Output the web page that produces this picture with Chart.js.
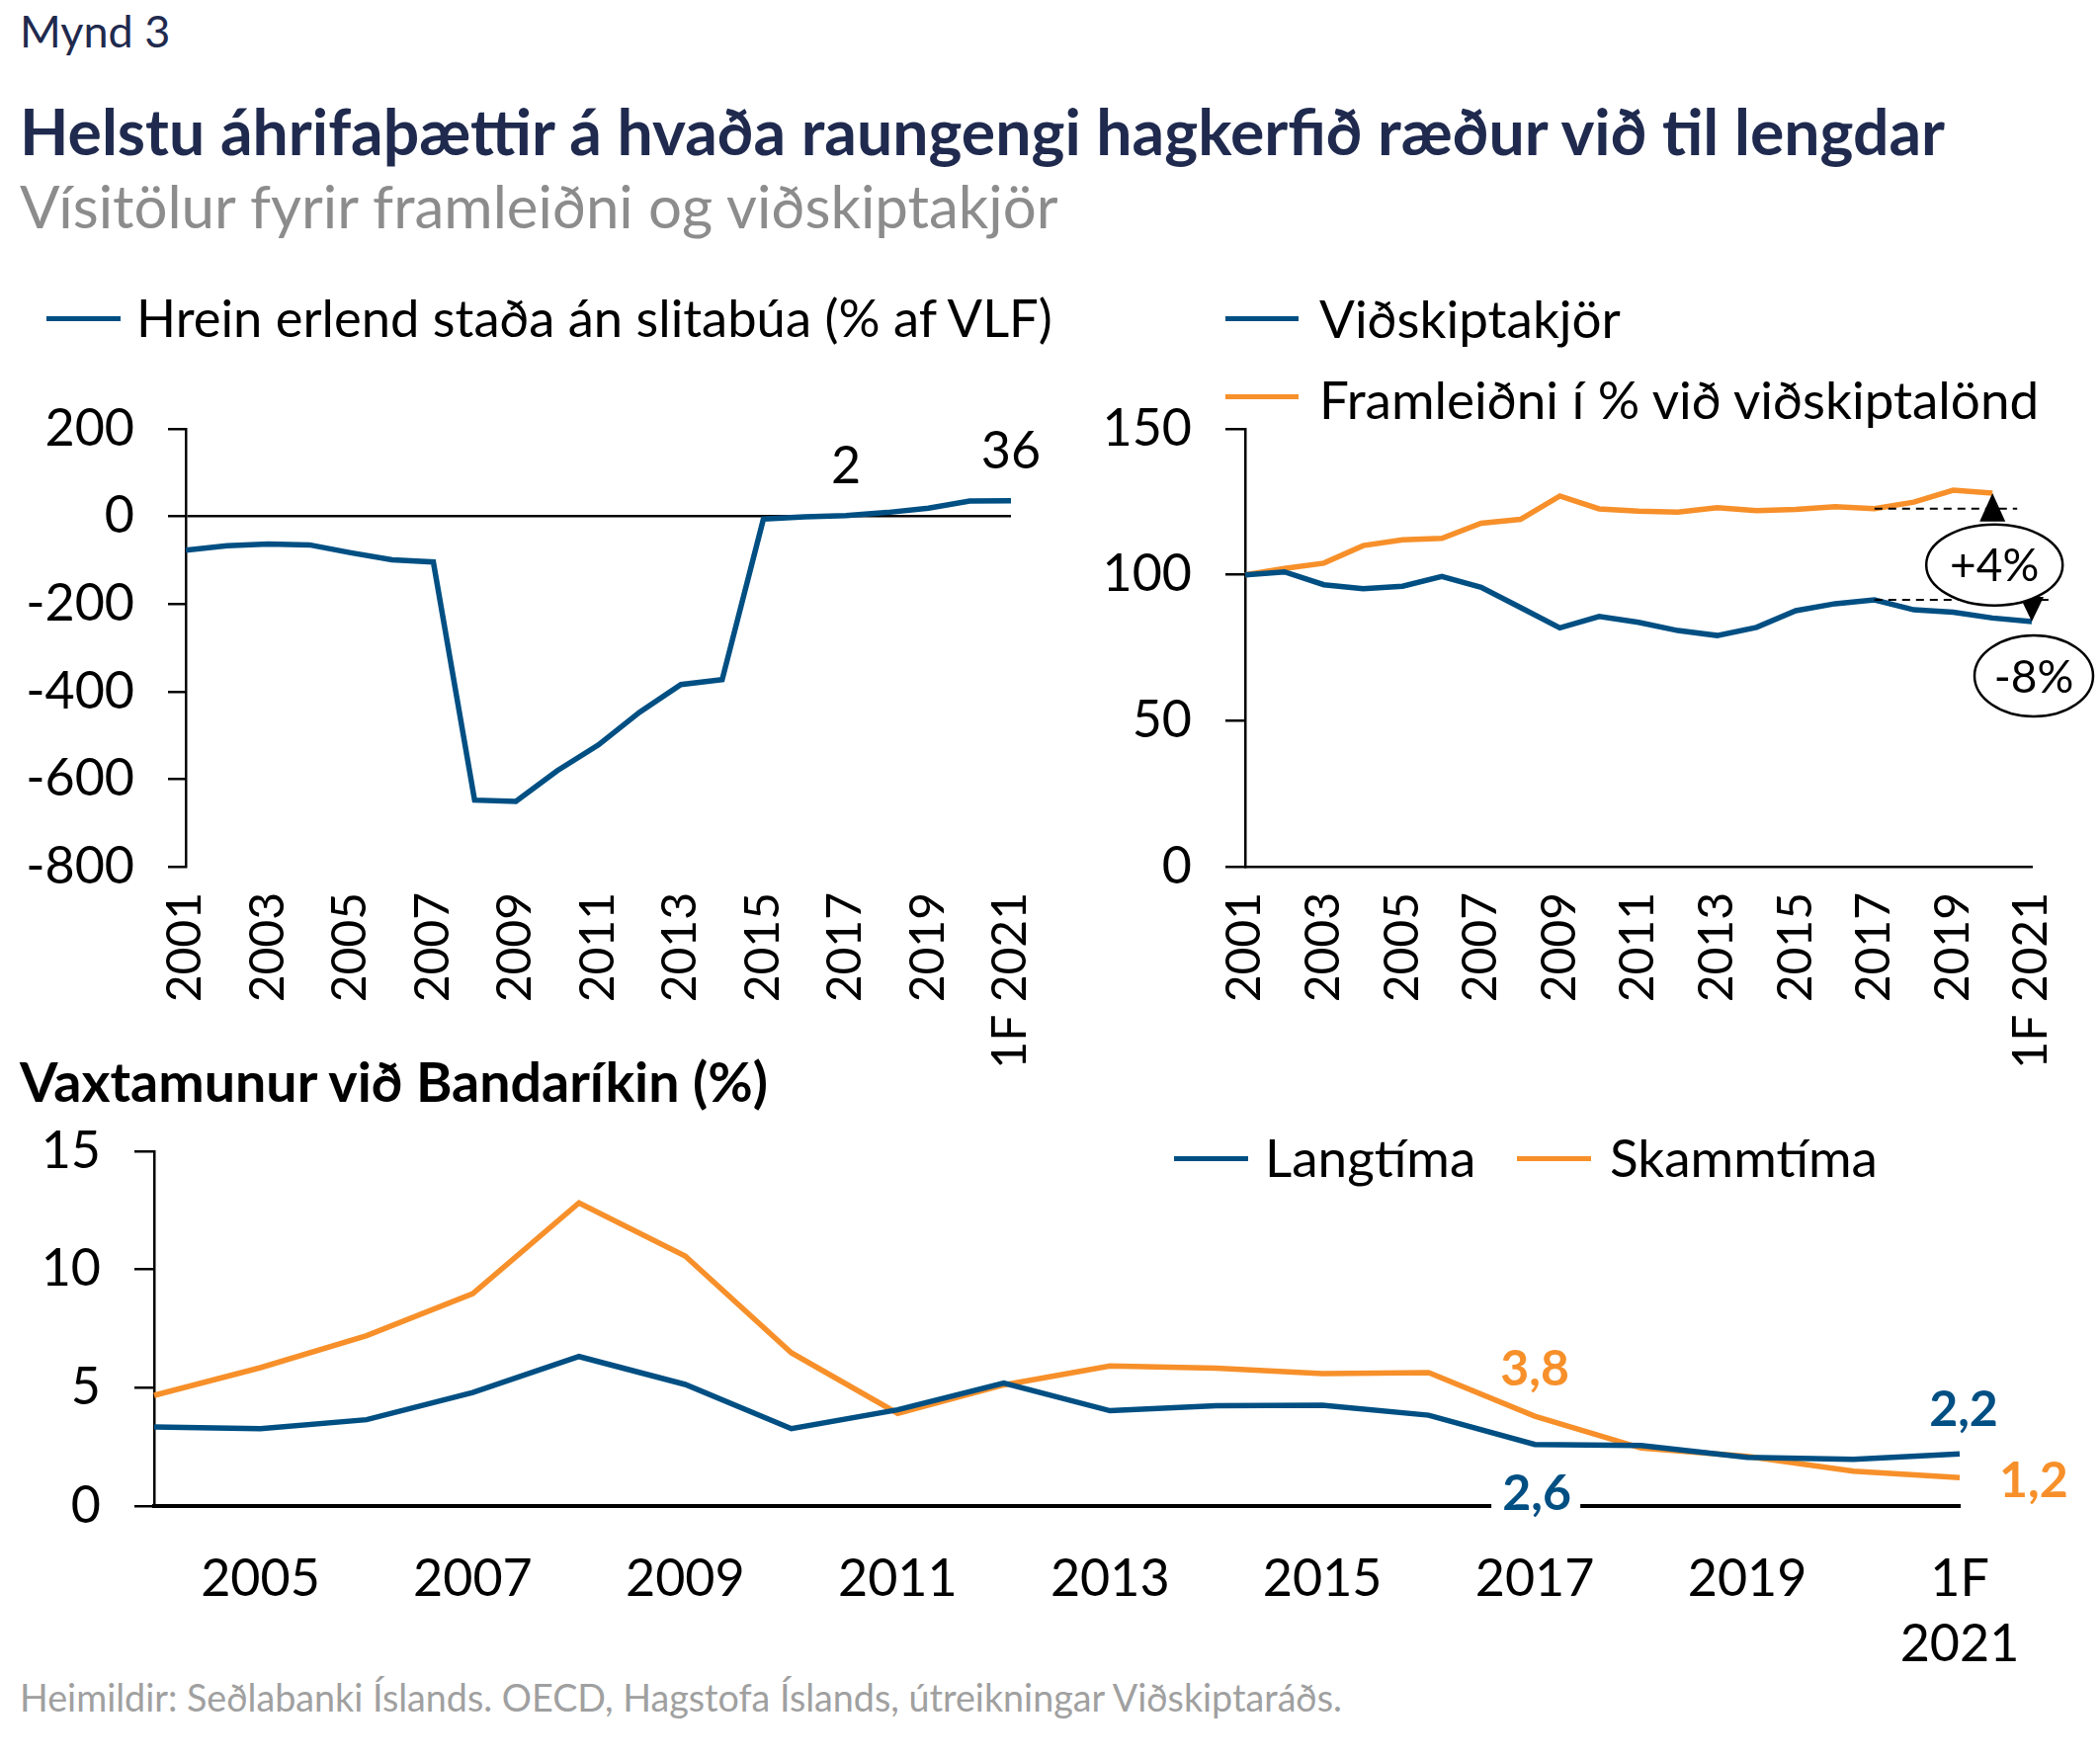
<!DOCTYPE html>
<html>
<head>
<meta charset="utf-8">
<script src="https://cdn.jsdelivr.net/npm/chart.js@4/dist/chart.umd.min.js"></script>
<style>
  body { margin: 0; background: #fff; }
  #page { position: relative; width: 2125px; height: 1780px; font-family: Lato, sans-serif; overflow: hidden; background: #fff; }
  .t { position: absolute; white-space: nowrap; line-height: 1; }
  .sw { position: absolute; height: 5px; }
  canvas { position: absolute; }
</style>
</head>
<body>
<div id="page">
  <div class="t" style="left:20px;top:9px;font-size:45px;color:#1f2a4e">Mynd 3</div>
  <div class="t" style="left:20px;top:101px;font-size:64.3px;font-weight:bold;color:#1f2a4e">Helstu áhrifaþættir á hvaða raungengi hagkerfið ræður við til lengdar</div>
  <div class="t" style="left:20px;top:178px;font-size:60px;color:#8c8c8c">Vísitölur fyrir framleiðni og viðskiptakjör</div>

  <div class="sw" style="left:47px;top:320px;width:75px;background:#004f83"></div>
  <div class="t" style="left:138px;top:295px;font-size:52.5px;color:#000">Hrein erlend staða án slitabúa (% af VLF)</div>

  <div class="sw" style="left:1240px;top:320px;width:74px;background:#004f83"></div>
  <div class="t" style="left:1335px;top:295px;font-size:53px;color:#000">Viðskiptakjör</div>
  <div class="sw" style="left:1240px;top:399px;width:74px;background:#f7902a"></div>
  <div class="t" style="left:1335px;top:377px;font-size:53px;color:#000">Framleiðni í % við viðskiptalönd</div>

  <div class="t" style="left:20px;top:1066px;font-size:55.5px;font-weight:bold;color:#000">Vaxtamunur við Bandaríkin (%)</div>
  <div class="sw" style="left:1188px;top:1170px;width:75px;background:#004f83"></div>
  <div class="t" style="left:1280px;top:1144px;font-size:53px;color:#000">Langtíma</div>
  <div class="sw" style="left:1535px;top:1170px;width:75px;background:#f7902a"></div>
  <div class="t" style="left:1629px;top:1144px;font-size:53px;color:#000">Skammtíma</div>

  <div class="t" style="left:20px;top:1699px;font-size:37.7px;color:#a0a0a0">Heimildir: Seðlabanki Íslands. OECD, Hagstofa Íslands, útreikningar Viðskiptaráðs.</div>

  <canvas id="netChart" width="1100" height="720" style="left:0;top:380px"></canvas>
  <canvas id="totChart" width="1045" height="720" style="left:1080px;top:380px"></canvas>
  <canvas id="rateChart" width="2125" height="560" style="left:0;top:1130px"></canvas>
</div>
<script>
const BLUE = '#004f83';
const ORANGE = '#f7902a';

const YEARS_TOP = ['2001', '2002', '2003', '2004', '2005', '2006', '2007', '2008', '2009', '2010',
  '2011', '2012', '2013', '2014', '2015', '2016', '2017', '2018', '2019', '2020', '1F 2021'];
const NET_POSITION = [-77, -67, -63, -65, -83, -99, -104, -648, -651, -581, -522, -447, -384, -373,
  -6, -1, 2, 9, 19, 35, 36];
const TERMS_OF_TRADE = [100, 101, 96.6, 95.2, 96.1, 99.4, 95.7, 88.8, 81.8, 85.7, 83.7, 80.9, 79.2,
  82, 87.7, 90.1, 91.4, 88, 87.2, 85.2, 84];
const PRODUCTIVITY = [100, 102.2, 104, 110, 112, 112.5, 117.7, 119, 127, 122.6, 121.8, 121.5, 123,
  122, 122.4, 123.3, 122.7, 124.9, 129, 128, null];

const YEARS_BOTTOM = ['2004', '2005', '2006', '2007', '2008', '2009', '2010', '2011', '2012', '2013',
  '2014', '2015', '2016', '2017', '2018', '2019', '2020', '1F 2021'];
const LONG_SPREAD = [3.34, 3.27, 3.65, 4.8, 6.32, 5.14, 3.27, 4.07, 5.2, 4.03, 4.24, 4.26, 3.84, 2.6,
  2.56, 2.06, 1.97, 2.2];
const SHORT_SPREAD = [4.68, 5.85, 7.2, 8.98, 12.82, 10.57, 6.48, 3.92, 5.12, 5.92, 5.83, 5.6, 5.64,
  3.8, 2.45, 2.1, 1.47, 1.2];

Chart.defaults.font.family = 'Lato, sans-serif';
Chart.defaults.color = '#000';
Chart.defaults.animation = false;

const lineSet = (data, color) => ({
  data: data,
  borderColor: color,
  borderWidth: 5.5,
  pointRadius: 0,
  tension: 0,
  fill: false,
});

// the layout padding decides the plot area, not the label overhang
const fixX = (height) => (s) => {
  s.height = height;
  s.paddingLeft = 0;
  s.paddingRight = 0;
};
const fixY = (width) => (s) => {
  s.width = width;
  s.paddingTop = 0;
  s.paddingBottom = 0;
};

const rotatedYearAxis = (height) => ({
  grid: { display: false, drawTicks: false },
  border: { display: false },
  ticks: {
    autoSkip: false,
    minRotation: 90,
    maxRotation: 90,
    padding: 26,
    font: { size: 48 },
    callback: function (v, i) { return i % 2 === 0 ? this.getLabelForValue(v) : ''; },
  },
  afterFit: fixX(height),
});

// top left: net foreign position
const netLabels = {
  id: 'netLabels',
  afterDatasetsDraw(chart) {
    const { ctx, scales: { x, y } } = chart;
    ctx.save();
    ctx.font = '52px Lato';
    ctx.fillStyle = '#000';
    ctx.textAlign = 'center';
    [16, 20].forEach((i) => {
      ctx.fillText(String(NET_POSITION[i]), x.getPixelForValue(i), y.getPixelForValue(NET_POSITION[i]) - 33);
    });
    ctx.restore();
  },
};

new Chart(document.getElementById('netChart'), {
  type: 'line',
  data: { labels: YEARS_TOP, datasets: [lineSet(NET_POSITION, BLUE)] },
  options: {
    responsive: false,
    layout: { padding: { top: 54, right: 77, left: 0, bottom: 0 } },
    plugins: { legend: { display: false }, tooltip: { enabled: false } },
    scales: {
      x: rotatedYearAxis(223),
      y: {
        min: -800,
        max: 200,
        ticks: { stepSize: 200, padding: 34, font: { size: 52 }, callback: (v) => String(v) },
        grid: {
          color: (c) => (c.tick && c.tick.value === 0 ? '#000' : 'rgba(0,0,0,0)'),
          tickColor: '#000',
          tickLength: 18,
          lineWidth: 2.5,
        },
        border: { display: true, color: '#000', width: 2.5 },
        afterFit: fixY(188),
      },
    },
  },
  plugins: [netLabels],
});

// top right: terms of trade vs productivity
const totNotes = {
  id: 'totNotes',
  afterDatasetsDraw(chart) {
    const { ctx, scales: { x, y } } = chart;
    const x17 = x.getPixelForValue(16);
    const x20 = x.getPixelForValue(19);
    const x21 = x.getPixelForValue(20);
    const yo17 = y.getPixelForValue(PRODUCTIVITY[16]);
    const yo20 = y.getPixelForValue(PRODUCTIVITY[19]);
    const yb17 = y.getPixelForValue(TERMS_OF_TRADE[16]);
    const yb21 = y.getPixelForValue(TERMS_OF_TRADE[20]);
    ctx.save();
    ctx.strokeStyle = '#000';
    ctx.lineWidth = 2;
    ctx.setLineDash([8, 6]);
    ctx.beginPath();
    ctx.moveTo(x17, yo17); ctx.lineTo(x20 + 25, yo17);
    ctx.moveTo(x17, yb17); ctx.lineTo(x21 + 18, yb17);
    ctx.stroke();
    ctx.setLineDash([]);
    ctx.fillStyle = '#000';
    ctx.beginPath();
    ctx.moveTo(x20, yo20); ctx.lineTo(x20 + 13, yo17 + 13); ctx.lineTo(x20 - 13, yo17 + 13);
    ctx.closePath(); ctx.fill();
    ctx.beginPath();
    ctx.moveTo(x21, yb21); ctx.lineTo(x21 + 12, yb17 - 3); ctx.lineTo(x21 - 12, yb17 - 3);
    ctx.closePath(); ctx.fill();

    const bubble = (cx, cy, rx, ry, text) => {
      ctx.beginPath();
      ctx.ellipse(cx, cy, rx, ry, 0, 0, Math.PI * 2);
      ctx.fillStyle = '#fff';
      ctx.fill();
      ctx.lineWidth = 2.5;
      ctx.strokeStyle = '#000';
      ctx.stroke();
      ctx.fillStyle = '#000';
      ctx.font = '46px Lato';
      ctx.textAlign = 'center';
      ctx.textBaseline = 'middle';
      ctx.fillText(text, cx, cy + 2);
    };
    bubble(x20 + 2, yo17 + 57, 69, 41, '+4%');
    bubble(x21 + 2, yb21 + 55, 60, 41, '-8%');
    ctx.restore();
  },
};

const totX = rotatedYearAxis(223);
totX.border = { display: true, color: '#000', width: 2.5 };

new Chart(document.getElementById('totChart'), {
  type: 'line',
  data: {
    labels: YEARS_TOP,
    datasets: [lineSet(TERMS_OF_TRADE, BLUE), lineSet(PRODUCTIVITY, ORANGE)],
  },
  options: {
    responsive: false,
    layout: { padding: { top: 54, right: 69, left: 0, bottom: 0 } },
    plugins: { legend: { display: false }, tooltip: { enabled: false } },
    scales: {
      x: totX,
      y: {
        min: 0,
        max: 150,
        ticks: { stepSize: 50, padding: 34, font: { size: 52 } },
        grid: { drawOnChartArea: false, tickColor: '#000', tickLength: 20, lineWidth: 2.5 },
        border: { display: true, color: '#000', width: 2.5 },
        afterFit: fixY(180),
      },
    },
  },
  plugins: [totNotes],
});

// bottom: interest rate differential against the US
const rateLabels = {
  id: 'rateLabels',
  afterDatasetsDraw(chart) {
    const { ctx, scales: { x, y } } = chart;
    const x17 = x.getPixelForValue(13);
    const x21 = x.getPixelForValue(17);
    ctx.save();
    ctx.font = 'bold 50px Lato';
    ctx.textAlign = 'center';
    ctx.fillStyle = ORANGE;
    ctx.fillText('3,8', x17, y.getPixelForValue(SHORT_SPREAD[13]) - 31);
    ctx.fillStyle = BLUE;
    ctx.fillText('2,2', x21 + 4, y.getPixelForValue(LONG_SPREAD[17]) - 28);
    ctx.textAlign = 'left';
    ctx.fillStyle = ORANGE;
    ctx.fillText('1,2', x21 + 40, y.getPixelForValue(SHORT_SPREAD[17]) + 20);
    const y0 = y.getPixelForValue(0);
    ctx.fillStyle = '#fff';
    ctx.fillRect(x17 - 44, y0 - 14, 90, 26);
    ctx.textAlign = 'center';
    ctx.fillStyle = BLUE;
    ctx.fillText('2,6', x17 + 2, y0 + 4);
    ctx.restore();
  },
};

new Chart(document.getElementById('rateChart'), {
  type: 'line',
  data: {
    labels: YEARS_BOTTOM,
    datasets: [lineSet(LONG_SPREAD, BLUE), lineSet(SHORT_SPREAD, ORANGE)],
  },
  options: {
    responsive: false,
    layout: { padding: { top: 35, right: 142, left: 0, bottom: 0 } },
    plugins: { legend: { display: false }, tooltip: { enabled: false } },
    scales: {
      x: {
        grid: { display: false, drawTicks: false },
        border: { display: true, color: '#000', width: 4 },
        ticks: {
          autoSkip: false,
          maxRotation: 0,
          padding: 41,
          font: { size: 52, lineHeight: 1.27 },
          callback: function (v, i) {
            if (i % 2 === 0) return '';
            const lab = this.getLabelForValue(v);
            return lab === '1F 2021' ? ['1F', '2021'] : lab;
          },
        },
        afterFit: fixX(166),
      },
      y: {
        min: 0,
        max: 15,
        ticks: { stepSize: 5, padding: 34, font: { size: 52 } },
        grid: { drawOnChartArea: false, tickColor: '#000', tickLength: 20, lineWidth: 2.5 },
        border: { display: true, color: '#000', width: 2.5 },
        afterFit: fixY(156),
      },
    },
  },
  plugins: [rateLabels],
});
</script>
</body>
</html>
